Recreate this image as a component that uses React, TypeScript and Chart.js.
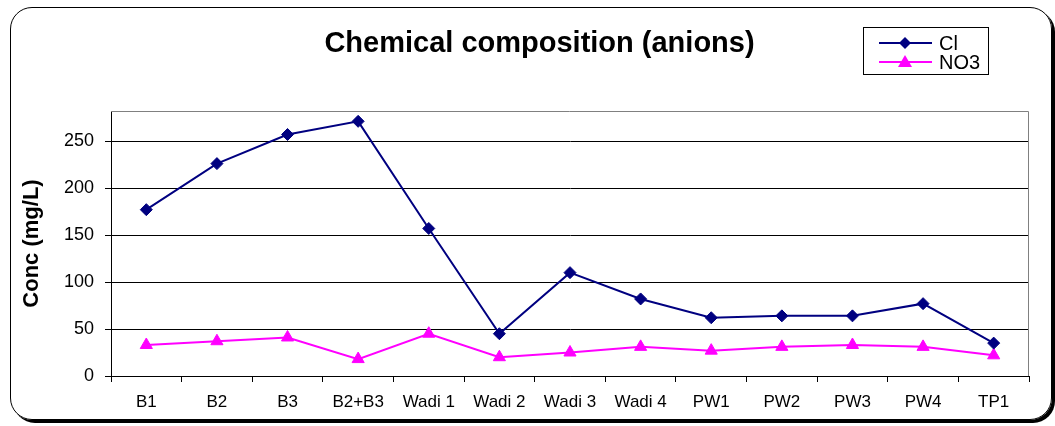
import React, { useEffect, useRef } from "react";
import { Chart, registerables } from "chart.js";

Chart.register(...registerables);

const categories = ["B1", "B2", "B3", "B2+B3", "Wadi 1", "Wadi 2", "Wadi 3", "Wadi 4", "PW1", "PW2", "PW3", "PW4", "TP1"];
const clValues = [177, 226, 257, 271, 157, 45, 110, 82, 62, 64, 64, 77, 35];
const no3Values = [33, 37, 41, 18, 45, 20, 25, 31, 27, 31, 33, 31, 22];
const yTicks = [0, 50, 100, 150, 200, 250];
const titleText = "Chemical composition (anions)";
const yTitle = "Conc (mg/L)";
const seriesNames = ["Cl", "NO3"];

const FONT = "'Liberation Sans', Arial, sans-serif";
const NAVY = "#000080";
const MAGENTA = "#FF00FF";

const overlayPlugin = {
  id: "overlay",
  beforeDatasetsDraw(chart: any) {
    const { ctx, chartArea } = chart;
    ctx.save();
    ctx.strokeStyle = "#808080";
    ctx.lineWidth = 1;
    ctx.beginPath();
    ctx.moveTo(chartArea.left, chartArea.top + 0.5);
    ctx.lineTo(chartArea.right - 0.5, chartArea.top + 0.5);
    ctx.lineTo(chartArea.right - 0.5, chartArea.bottom);
    ctx.stroke();
    ctx.restore();
  },
  afterDraw(chart: any) {
    const { ctx } = chart;
    ctx.save();
    // title
    ctx.fillStyle = "#000";
    ctx.font = `bold 29px ${FONT}`;
    ctx.textAlign = "center";
    ctx.textBaseline = "alphabetic";
    ctx.fillText(titleText, 539.5, 52);
    // legend box
    ctx.strokeStyle = "#000";
    ctx.lineWidth = 1;
    ctx.strokeRect(863.5, 27.5, 125, 47);
    const rows = [
      { name: seriesNames[0], color: NAVY, y: 43, style: "diamond" },
      { name: seriesNames[1], color: MAGENTA, y: 62, style: "triangle" },
    ];
    rows.forEach((r) => {
      ctx.strokeStyle = r.color;
      ctx.lineWidth = 2;
      ctx.beginPath();
      ctx.moveTo(879, r.y);
      ctx.lineTo(932, r.y);
      ctx.stroke();
      ctx.fillStyle = r.color;
      ctx.beginPath();
      if (r.style === "diamond") {
        ctx.moveTo(905, r.y - 6);
        ctx.lineTo(911, r.y);
        ctx.lineTo(905, r.y + 6);
        ctx.lineTo(899, r.y);
      } else {
        ctx.moveTo(905, r.y - 7);
        ctx.lineTo(912, r.y + 5);
        ctx.lineTo(898, r.y + 5);
      }
      ctx.closePath();
      ctx.fill();
      ctx.fillStyle = "#000";
      ctx.font = `20px ${FONT}`;
      ctx.textAlign = "left";
      ctx.textBaseline = "middle";
      ctx.fillText(r.name, 939, r.y + 1);
    });
    ctx.restore();
  },
};

export default function App() {
  const ref = useRef<HTMLCanvasElement | null>(null);
  useEffect(() => {
    if (!ref.current) return;
    const chart = new Chart(ref.current, {
      type: "line",
      data: {
        labels: categories,
        datasets: [
          {
            label: seriesNames[0],
            data: clValues,
            borderColor: NAVY,
            backgroundColor: NAVY,
            borderWidth: 2,
            pointStyle: "rectRot",
            pointRadius: 6,
            pointBorderWidth: 1,
            pointBackgroundColor: NAVY,
            pointBorderColor: NAVY,
            tension: 0,
          },
          {
            label: seriesNames[1],
            data: no3Values,
            borderColor: MAGENTA,
            backgroundColor: MAGENTA,
            borderWidth: 2,
            pointStyle: "triangle",
            pointRadius: 7,
            pointBorderWidth: 1,
            pointBackgroundColor: MAGENTA,
            pointBorderColor: MAGENTA,
            tension: 0,
          },
        ],
      },
      options: {
        responsive: false,
        animation: false,
        layout: { padding: { left: 19, top: 111, right: 26, bottom: 0 } },
        plugins: {
          legend: { display: false },
          title: { display: false },
          tooltip: { enabled: false },
        },
        scales: {
          x: {
            type: "category",
            offset: true,
            grid: {
              display: true,
              offset: true,
              drawOnChartArea: false,
              drawTicks: true,
              tickLength: 6,
              color: "#000",
            },
            border: { display: true, color: "#000", width: 1 },
            ticks: {
              color: "#000",
              font: { family: FONT, size: 17 },
              padding: 10,
              maxRotation: 0,
              autoSkip: false,
            },
            afterFit: (scale: any) => {
              scale.height = 50;
            },
          },
          y: {
            type: "linear",
            min: 0,
            max: 282,
            afterBuildTicks: (scale: any) => {
              scale.ticks = yTicks.map((v) => ({ value: v }));
            },
            grid: {
              color: "#000",
              lineWidth: 1,
              tickLength: 6,
              drawTicks: true,
            },
            border: { display: true, color: "#000", width: 1 },
            ticks: {
              color: "#000",
              font: { family: FONT, size: 18 },
              padding: 11,
            },
            title: {
              display: true,
              text: yTitle,
              color: "#000",
              font: { family: FONT, size: 22, weight: "bold" },
              padding: { top: 0, bottom: 0 },
            },
            afterFit: (scale: any) => {
              scale.width = 92;
            },
          },
        },
      } as any,
      plugins: [overlayPlugin],
    });
    return () => chart.destroy();
  }, []);

  return (
    <div style={{ position: "fixed", left: 0, top: 0, width: 1055, height: 426, background: "#fff", overflow: "hidden" }}>
      <canvas ref={ref} width={1055} height={426} style={{ position: "absolute", left: 0, top: 0 }} />
      <div
        style={{
          position: "absolute",
          left: 10,
          top: 7,
          width: 1040,
          height: 411,
          border: "1.5px solid #000",
          borderRadius: 22,
          boxShadow: "3px 3px 0 #000",
          pointerEvents: "none",
        }}
      />
    </div>
  );
}
